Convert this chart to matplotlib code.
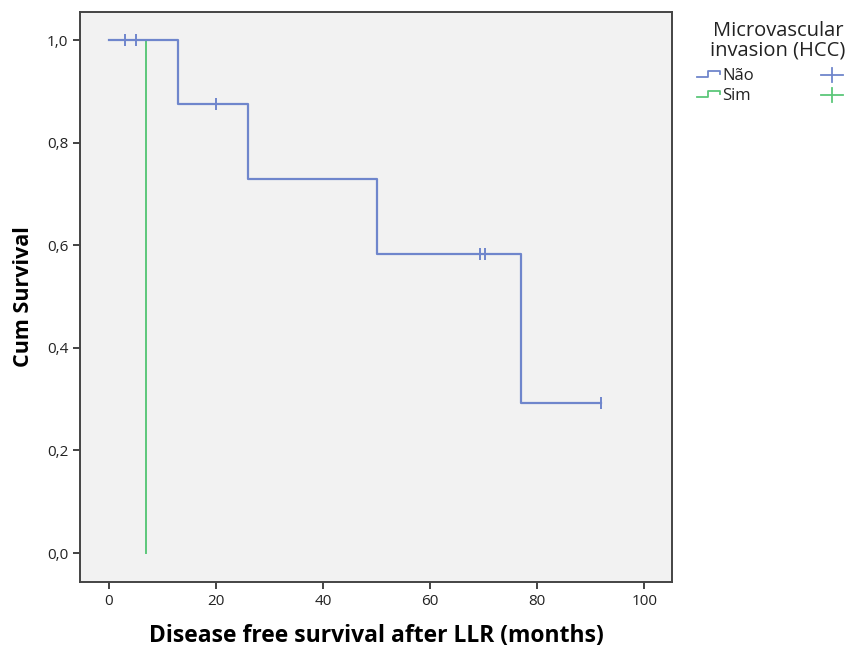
import matplotlib
matplotlib.use("Agg")
import matplotlib.pyplot as plt
from matplotlib.lines import Line2D
import numpy as np

# Data
nao_times = [0, 13, 26, 50, 77, 92]
nao_surv = [1.0, 0.875, 0.729, 0.583, 0.292, 0.292]
nao_cens_t = [3, 5, 20, 69.3, 70.3, 92]
nao_cens_s = [1.0, 1.0, 0.875, 0.583, 0.583, 0.292]

sim_times = [0, 7, 7]
sim_surv = [1.0, 1.0, 0.0]

xticks = [0, 20, 40, 60, 80, 100]
yticks = [0.0, 0.2, 0.4, 0.6, 0.8, 1.0]
ytick_labels = ["0,0", "0,2", "0,4", "0,6", "0,8", "1,0"]

blue = "#6f86cc"
green = "#5cc77a"

plt.rcParams['font.family'] = ['Open Sans', 'DejaVu Sans']

fig = plt.figure(figsize=(8.53, 6.5), dpi=100)
ax = fig.add_axes([80/853, 1-582/650, (672-80)/853, (582-12)/650])
ax.set_facecolor("#f2f2f2")

ax.step(nao_times, nao_surv, where="post", color=blue, lw=1.6, zorder=3)
ax.plot(nao_cens_t, nao_cens_s, linestyle="none", marker="|", markersize=9,
        mew=1.4, color=blue, zorder=4)
ax.step(sim_times, sim_surv, where="post", color=green, lw=1.4, zorder=2)

ax.set_xlim(-5.4, 105.2)
ax.set_ylim(-0.0565, 1.0546)
ax.set_xticks(xticks)
ax.set_yticks(yticks)
ax.set_yticklabels(ytick_labels)
ax.tick_params(direction="out", length=5, width=1.2, labelsize=11, colors="#222222")
for s in ax.spines.values():
    s.set_color("#444444")
    s.set_linewidth(1.4)

ax.set_xlabel("Disease free survival after LLR (months)", fontsize=16.5,
              fontweight="bold", labelpad=11)
ax.set_ylabel("Cum Survival", fontsize=15.5, fontweight="bold", labelpad=9)

# Legend drawn in figure pixel coordinates
def fx(px):
    return px / 853
def fy(py):
    return 1 - py / 650

fig.text(fx(778), fy(41), "Microvascular\ninvasion (HCC)", ha="center", va="center",
         fontsize=14.5, linespacing=0.95, color="#222222")
for label, col, y in [("Não", blue, 77), ("Sim", green, 97)]:
    xs = [fx(697), fx(708), fx(708), fx(720), fx(720)]
    ys = [fy(y), fy(y), fy(y - 6), fy(y - 6), fy(y - 3)]
    fig.add_artist(Line2D(xs, ys, color=col, lw=1.3, transform=fig.transFigure))
    fig.text(fx(722), fy(y - 1), label, ha="left", va="center", fontsize=12,
             color="#222222")
    fig.add_artist(Line2D([fx(821), fx(843)], [fy(y - 2), fy(y - 2)], color=col, lw=1.3,
                          transform=fig.transFigure))
    fig.add_artist(Line2D([fx(832), fx(832)], [fy(y - 9), fy(y + 5)], color=col, lw=1.3,
                          transform=fig.transFigure))

fig.savefig("out.png", dpi=100, facecolor="white")
